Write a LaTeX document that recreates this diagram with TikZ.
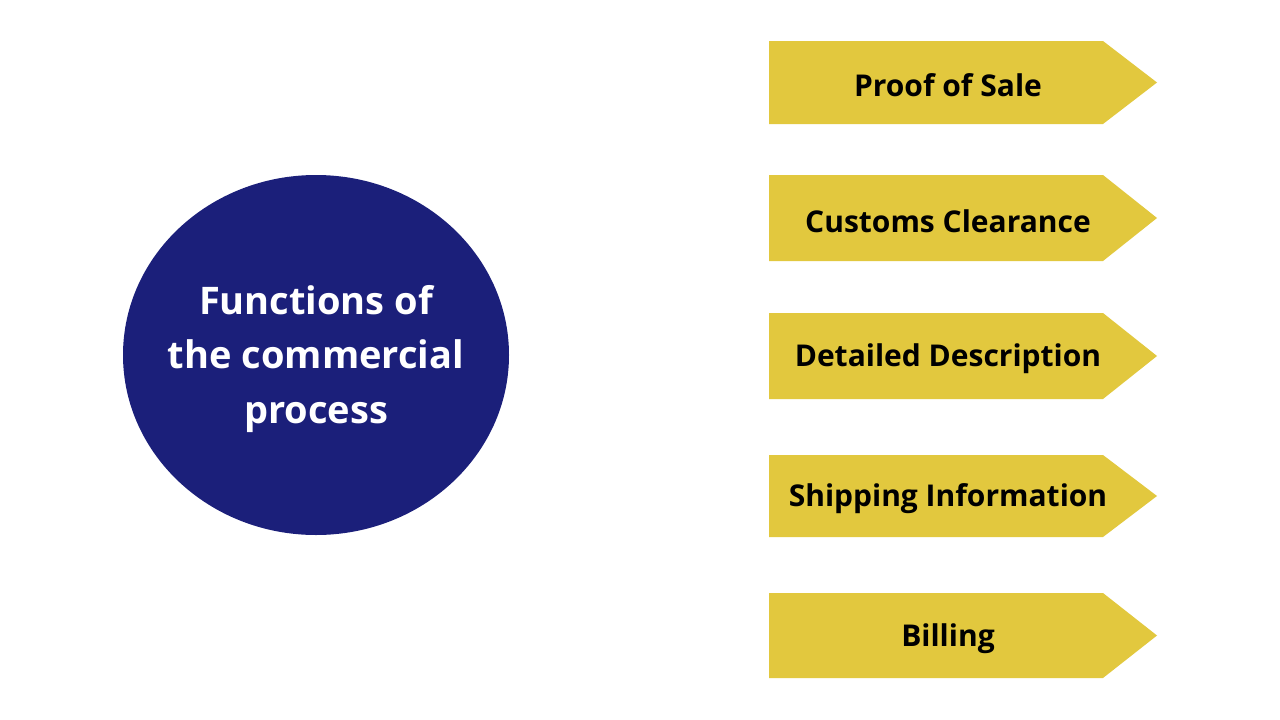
\documentclass[tikz,border=0pt]{standalone}
\usepackage{fontspec}
\setmainfont{Open Sans}
\definecolor{navy}{HTML}{1B1F7A}
\definecolor{gold}{HTML}{E2C83E}
\begin{document}
\begin{tikzpicture}[x=1pt,y=-1pt,
  tagtext/.style={font=\fontsize{30}{36}\selectfont\bfseries,text=black,inner sep=0pt,anchor=center}]
\useasboundingbox (0,0) rectangle (1280,720);
\fill[white] (0,0) rectangle (1280,720);
\fill[navy] (316,355) ellipse [x radius=193, y radius=180];
\node[text=white,font=\fontsize{38}{54.5}\selectfont\bfseries,align=center,inner sep=0pt] (hub) at (316,359) {Functions of\\the commercial\\process};
\foreach \t/\b/\lab/\nm in {41/124/Proof of Sale/a, 175/261/Customs Clearance/b, 313/399/Detailed Description/c, 455/537/Shipping Information/d, 593/678/Billing/e}{
  \fill[gold] (769,\t) -- (1103,\t) -- (1157,{(\t+\b)/2}) -- (1103,\b) -- (769,\b) -- cycle;
  \node[tagtext] (\nm) at (948,{(\t+\b)/2+3}) {\lab};
}
\end{tikzpicture}
\end{document}
